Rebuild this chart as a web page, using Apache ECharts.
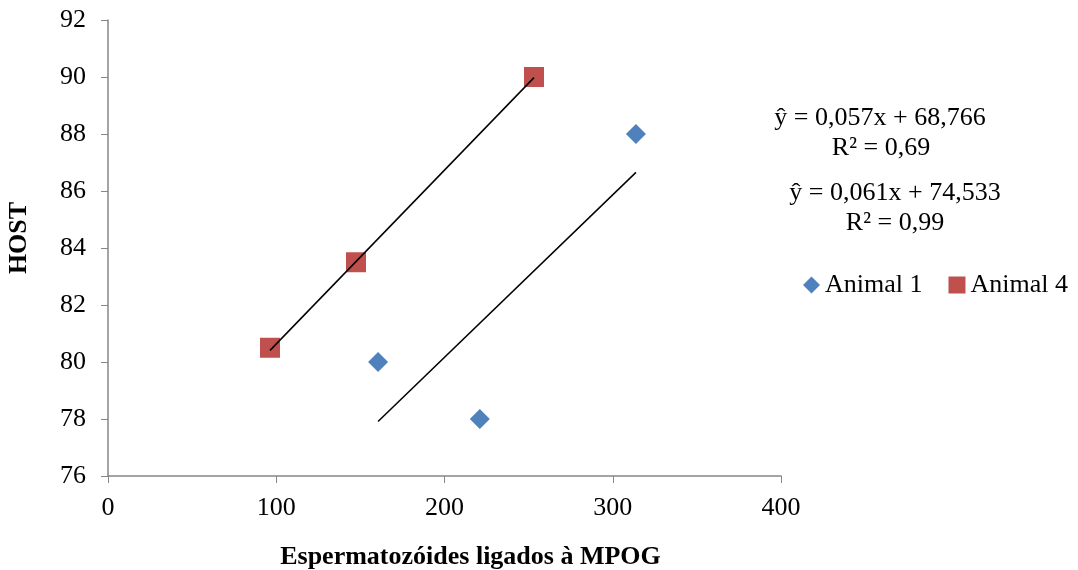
<!DOCTYPE html>
<html>
<head>
<meta charset="utf-8">
<script src="https://cdn.jsdelivr.net/npm/echarts@6/dist/echarts.min.js"></script>
<style>html,body{margin:0;padding:0;background:#fff}#main{width:1078px;height:570px}</style>
</head>
<body>
<div id="main"></div>
<script>
// dados
var animal1X = [160.5, 221, 313.8];
var animal1Y = [80, 78, 88];
var animal4X = [96.3, 147.4, 253.2];
var animal4Y = [80.5, 83.5, 90];
// linhas de tendência (coeficientes das equações)
var trend1 = { a: 0.057, b: 68.766 };
var trend4 = { a: 0.061, b: 74.533 };
var eqText1 = ['ŷ = 0,057x + 68,766', 'R² = 0,69'];
var eqText4 = ['ŷ = 0,061x + 74,533', 'R² = 0,99'];

var myChart = echarts.init(document.getElementById('main'));
var font = 'Liberation Serif';

function pairs(xs, ys) {
    return xs.map(function (x, i) { return [x, ys[i]]; });
}
function trendLine(xs, t) {
    var lo = Math.min.apply(null, xs), hi = Math.max.apply(null, xs);
    return [[lo, t.a * lo + t.b], [hi, t.a * hi + t.b]];
}
function eq(text, x, y) {
    return { type: 'text', x: x, y: y, style: { text: text, fontFamily: font, fontSize: 26, fill: '#000', textAlign: 'center', textVerticalAlign: 'middle' } };
}

var option = {
    animation: false,
    grid: { left: 108, right: 297, top: 20, bottom: 94, outerBoundsMode: 'none', containLabel: false },
    xAxis: {
        type: 'value', min: 0, max: 400, interval: 100,
        name: 'Espermatozóides ligados à MPOG',
        nameLocation: 'middle', nameGap: 68,
        nameTextStyle: { fontFamily: font, fontSize: 26, fontWeight: 'bold', color: '#000', padding: [0, 0, 0, 52] },
        axisLine: { lineStyle: { color: '#868686', width: 1.5 } },
        axisTick: { show: true, length: 7, lineStyle: { color: '#868686' } },
        axisLabel: { fontFamily: font, fontSize: 26, color: '#000', margin: 19 },
        splitLine: { show: false }
    },
    yAxis: {
        type: 'value', min: 76, max: 92, interval: 2,
        name: 'HOST',
        nameLocation: 'middle', nameGap: 76,
        nameTextStyle: { fontFamily: font, fontSize: 26, fontWeight: 'bold', color: '#000', padding: [0, 0, 0, 20] },
        axisLine: { show: true, lineStyle: { color: '#868686', width: 1.5 } },
        axisTick: { show: true, length: 7, lineStyle: { color: '#868686' } },
        axisLabel: { fontFamily: font, fontSize: 26, color: '#000', margin: 22 },
        splitLine: { show: false }
    },
    legend: {
        data: ['Animal 1', 'Animal 4'],
        left: 798, top: 267,
        itemWidth: 17, itemHeight: 17, itemGap: 26,
        textStyle: { fontFamily: font, fontSize: 26, color: '#000' }
    },
    graphic: [
        eq(eqText1[0], 880, 118),
        eq(eqText1[1], 881, 148),
        eq(eqText4[0], 895, 193),
        eq(eqText4[1], 895, 223)
    ],
    series: [
        {
            name: 'Animal 1', type: 'scatter', symbol: 'diamond', symbolSize: 20,
            itemStyle: { color: '#4F81BD', opacity: 1 }, z: 3,
            data: pairs(animal1X, animal1Y)
        },
        {
            name: 'Animal 4', type: 'scatter', symbol: 'rect', symbolSize: 20,
            itemStyle: { color: '#C0504D', opacity: 1 }, z: 3,
            data: pairs(animal4X, animal4Y)
        },
        {
            name: 'trend1', type: 'line', showSymbol: false, symbol: 'none',
            lineStyle: { color: '#000', width: 1.5 }, z: 4,
            data: trendLine(animal1X, trend1)
        },
        {
            name: 'trend4', type: 'line', showSymbol: false, symbol: 'none',
            lineStyle: { color: '#000', width: 1.5 }, z: 4,
            data: trendLine(animal4X, trend4)
        }
    ]
};

myChart.setOption(option);
</script>
</body>
</html>
